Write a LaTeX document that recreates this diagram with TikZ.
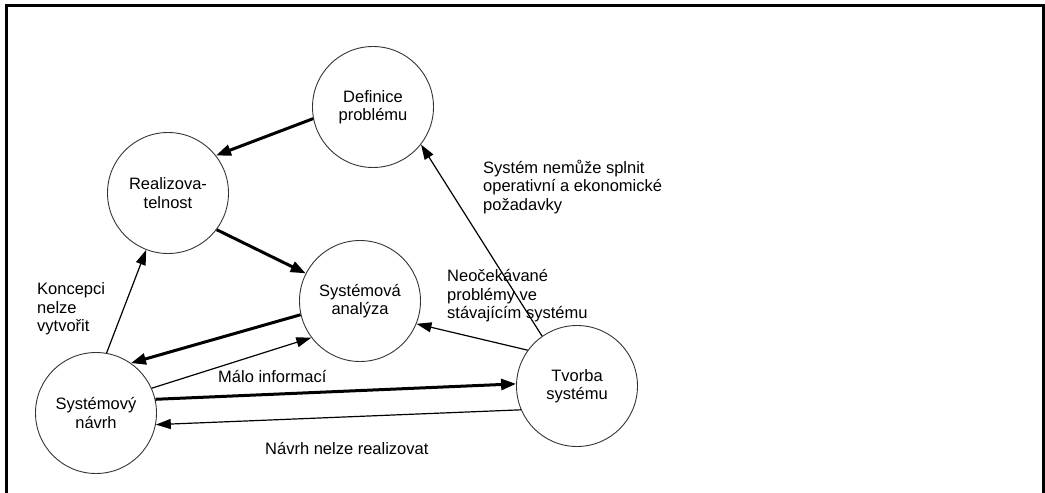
\documentclass[tikz,border=0pt]{standalone}
\usepackage{fontspec}
\setmainfont{Liberation Sans}
\usetikzlibrary{arrows.meta}
\begin{document}
\begin{tikzpicture}[x=1pt,y=-1pt,
  stage/.style={circle,draw=black!80,line width=0.9pt,minimum size=121pt,inner sep=0pt,align=center,font=\fontsize{16.5}{18.5}\selectfont},
  lbl/.style={anchor=west,align=left,inner sep=0pt,font=\fontsize{16.5}{18.5}\selectfont},
  thin/.style={line width=1.2pt,-{Triangle[length=15pt,width=10pt]}},
  thick/.style={line width=3pt,-{Triangle[length=15pt,width=11pt]}}]
\useasboundingbox (0,0) rectangle (1045,493);
\draw[line width=3pt] (6,496) -- (6,5) -- (1043,5) -- (1043,496);

\node[stage] (def) at (373,107) {Definice\\problému};
\node[stage] (real) at (168,193) {Realizova-\\telnost};
\node[stage] (ana) at (360,301) {Systémová\\analýza};
\node[stage] (nav) at (96,413) {Systémový\\návrh};
\node[stage] (tvo) at (577,386) {Tvorba\\systému};

\draw[thick] (def.191) -- (real.38);
\draw[thick] (real.323) -- (ana.153);
\draw[thick] (ana.193) -- (nav.55);
\draw[thin] (nav.24) -- (ana.217);
\draw[thick] (nav.13) -- (tvo.178);
\draw[thin] (tvo.203) -- (nav.349);
\draw[thin] (tvo.144) -- (ana.338);
\draw[thin] (tvo.125) -- (def.322);
\draw[thin] (nav.80) -- (real.249);

\node[lbl] (l1) at (37,309) {Koncepci\\nelze\\vytvořit};
\node[lbl] (l2) at (483,187) {Systém nemůže splnit\\operativní a ekonomické\\požadavky};
\node[lbl] (l3) at (447,296) {Neočekávané\\problémy ve\\stávajícím systému};
\node[lbl] (l4) at (218,377) {Málo informací};
\node[lbl] (l5) at (265,448) {Návrh nelze realizovat};
\end{tikzpicture}
\end{document}
